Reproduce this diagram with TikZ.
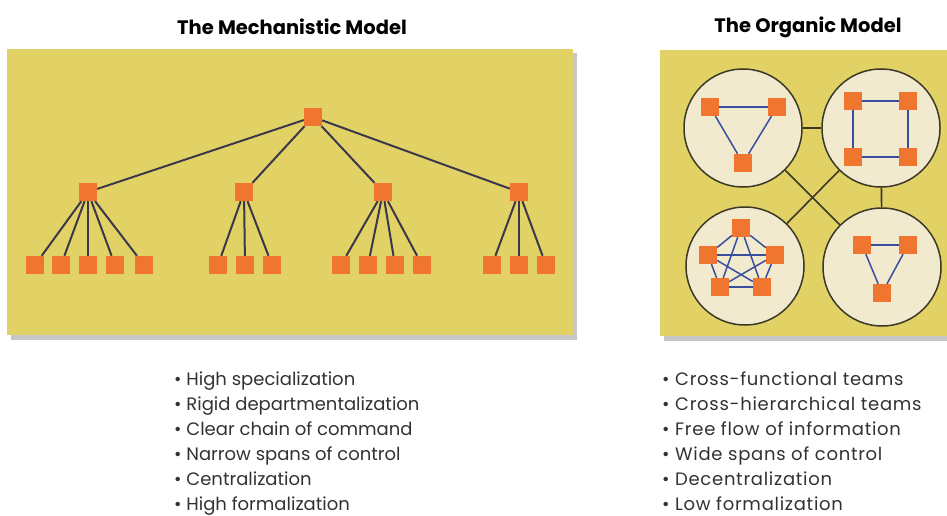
\documentclass[tikz,border=0pt]{standalone}
\usepackage{fontspec}
\setmainfont{Poppins}
\definecolor{panel}{RGB}{226,210,102}
\definecolor{box}{RGB}{240,118,48}
\definecolor{edge}{RGB}{58,56,74}
\definecolor{inner}{RGB}{58,78,160}
\definecolor{cream}{RGB}{242,234,206}
\definecolor{rim}{RGB}{58,56,38}
\definecolor{txt}{RGB}{50,50,50}
\begin{document}
\begin{tikzpicture}[x=1pt,y=-1pt,
  sq/.style={fill=box, minimum size=18pt, inner sep=0pt},
  link/.style={draw=edge, line width=2pt},
  ilink/.style={draw=inner, line width=1.5pt},
  team/.style={circle, fill=cream, draw=rim, line width=1.5pt, minimum size=118pt, inner sep=0pt},
  clink/.style={draw=rim, line width=1.6pt},
  title/.style={font=\fontsize{19.5}{22}\selectfont\bfseries, text=black},
  item/.style={font=\fontsize{18}{21}\selectfont, text=txt, anchor=base west, inner sep=0pt},
  ritem/.style={item, font=\fontsize{18}{21}\selectfont\addfontfeature{LetterSpace=4}}]
\useasboundingbox (0,0) rectangle (947,516);
% panels
\fill[black!22] (11,53) rectangle (577,340);
\fill[panel] (7,49) rectangle (573,335);
\fill[black!22] (664,54) rectangle (960,341);
\fill[panel] (660,50) rectangle (960,336);
% titles
\node[title] (t1) at (292,27) {The Mechanistic Model};
\node[title] (t2) at (808,27) {The Organic Model};
% mechanistic
\node[sq] (top) at (313,117) {};
\node[sq] (m1) at (88,192) {};
\node[sq] (m2) at (244,192) {};
\node[sq] (m3) at (383,192) {};
\node[sq] (m4) at (519,192) {};
\foreach \n/\x in {a1/35,a2/61,a3/88,a4/115,a5/144,b1/218,b2/245,b3/272,c1/341,c2/368,c3/395,c4/422,d1/492,d2/519,d3/546}
  \node[sq] (\n) at (\x,265) {};
\foreach \m in {m1,m2,m3,m4} \draw[link] (top) -- (\m);
\foreach \b in {a1,a2,a3,a4,a5} \draw[link] (m1) -- (\b);
\foreach \b in {b1,b2,b3} \draw[link] (m2) -- (\b);
\foreach \b in {c1,c2,c3,c4} \draw[link] (m3) -- (\b);
\foreach \b in {d1,d2,d3} \draw[link] (m4) -- (\b);
% organic
\node[team] (k1) at (743,128) {};
\node[team] (k2) at (881,128) {};
\node[team] (k3) at (745,266) {};
\node[team] (k4) at (882,267) {};
\draw[clink] (k1) -- (k2);
\draw[clink] (k2) -- (k4);
\draw[clink] (k1) -- (k4);
\draw[clink] (k2) -- (k3);
% team 1 triangle
\node[sq] (p1) at (710,107) {};
\node[sq] (p2) at (777,107) {};
\node[sq] (p3) at (743,163) {};
\draw[ilink] (p1) -- (p2);
\draw[ilink] (p2) -- (p3);
\draw[ilink] (p3) -- (p1);
% team 2 square
\node[sq] (q1) at (853,101) {};
\node[sq] (q2) at (908,101) {};
\node[sq] (q3) at (908,157) {};
\node[sq] (q4) at (853,157) {};
\draw[ilink] (q1) -- (q2);
\draw[ilink] (q2) -- (q3);
\draw[ilink] (q3) -- (q4);
\draw[ilink] (q4) -- (q1);
% team 3 pentagon
\node[sq] (r1) at (741,228) {};
\node[sq] (r2) at (775,255) {};
\node[sq] (r3) at (762,287) {};
\node[sq] (r4) at (720,287) {};
\node[sq] (r5) at (708,255) {};
\foreach \u/\v in {r1/r2,r1/r3,r1/r4,r1/r5,r2/r3,r2/r4,r2/r5,r3/r4,r3/r5,r4/r5}
  \draw[ilink] (\u) -- (\v);
% team 4 triangle
\node[sq] (s1) at (862,245) {};
\node[sq] (s2) at (908,245) {};
\node[sq] (s3) at (882,293) {};
\draw[ilink] (s1) -- (s2);
\draw[ilink] (s2) -- (s3);
\draw[ilink] (s3) -- (s1);
% lists
\foreach \i/\t in {0/High specialization,1/Rigid departmentalization,2/Clear chain of command,3/Narrow spans of control,4/Centralization,5/High formalization}
  \node[item] (l\i) at (174,385+25*\i) {• \t};
\foreach \i/\t in {0/Cross-functional teams,1/Cross-hierarchical teams,2/Free flow of information,3/Wide spans of control,4/Decentralization,5/Low formalization}
  \node[ritem] (r\i) at (662,385+25*\i) {• \t};
\end{tikzpicture}
\end{document}
